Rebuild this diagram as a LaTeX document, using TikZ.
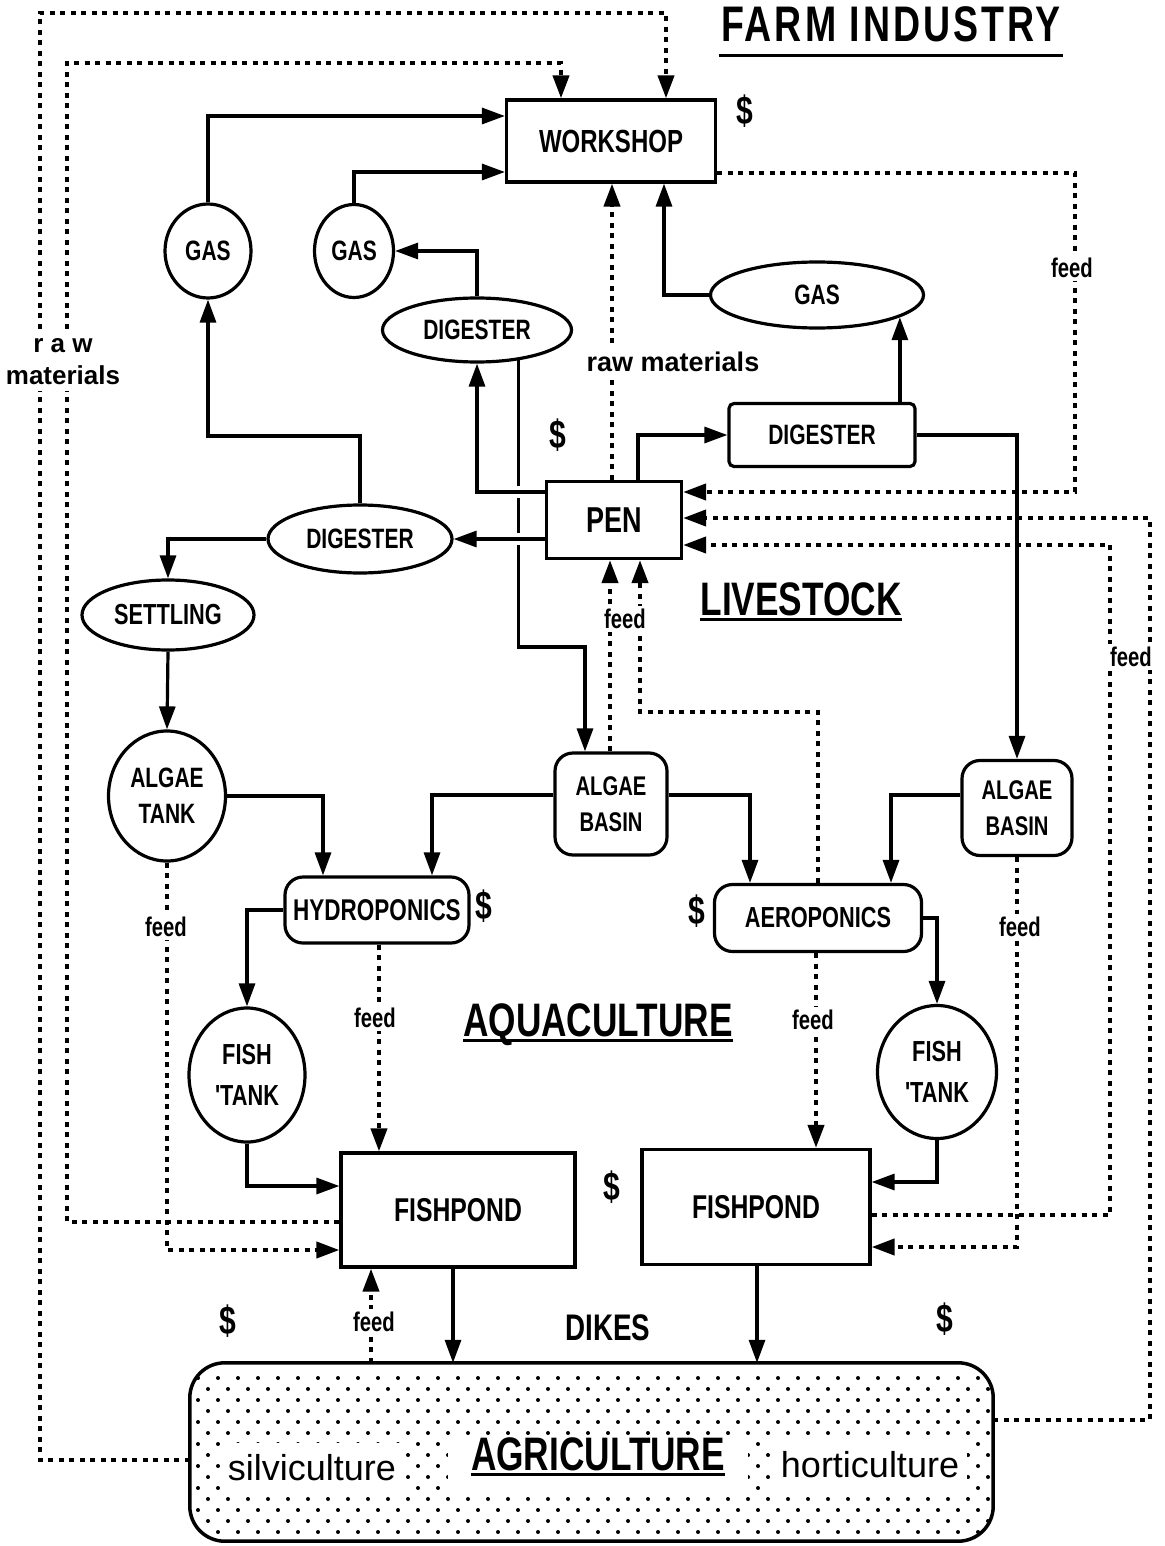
\documentclass[tikz,border=0pt]{standalone}
\usepackage{fontspec}
\setmainfont{Liberation Sans}
\newfontfamily\cf[FakeStretch=0.75]{Liberation Sans}
\newfontfamily\tf[FakeStretch=0.75,LetterSpace=6]{Liberation Sans}
\usetikzlibrary{arrows.meta,shapes.geometric}
\newcommand\fsz[2]{\fontsize{#1}{#2}\selectfont}
\begin{document}
\begin{tikzpicture}[x=1pt,y=-1pt,
  arr/.style={line width=3.2pt,-{Triangle[length=23pt,width=16pt]}},
  dl/.style={line width=4pt,dash pattern=on 5pt off 5.5pt},
  darr/.style={dl,-{Triangle[length=23pt,width=16pt]}},
  bx/.style={draw,line width=3.2pt,fill=white,rectangle,inner sep=0pt,align=center,font=\cf\bfseries\fsz{30}{30}},
  rbx/.style={bx,rounded corners=18pt},
  el/.style={draw,line width=3.2pt,fill=white,ellipse,inner sep=0pt,align=center,font=\cf\bfseries\fsz{28}{28}},
  fd/.style={fill=white,inner sep=3pt,font=\cf\bfseries\fsz{27}{27}},
  dol/.style={font=\cf\bfseries\fsz{40}{40},inner sep=0pt},
  ttl/.style={font=\cf\bfseries\fsz{47}{47},inner sep=0pt,anchor=base},
  ul/.style={line width=3pt},
  gap/.style={preaction={draw=white,line width=12pt,-}},
]
\useasboundingbox[fill=white] (0,0) rectangle (1164,1546);

% ---------- nodes ----------
\node[bx,minimum width=209pt,minimum height=82pt,font=\cf\bfseries\fsz{32}{32}] (ws) at (611,141) {WORKSHOP};
\node[el,minimum width=86pt,minimum height=94pt] (gas1) at (208,251) {GAS};
\node[el,minimum width=79pt,minimum height=93pt] (gas2) at (354,251) {GAS};
\node[el,minimum width=189pt,minimum height=64pt] (dig1) at (477,330) {DIGESTER};
\node[el,minimum width=213pt,minimum height=66pt] (gasr) at (817,295) {GAS};
\node[bx,rounded corners=5pt,minimum width=186pt,minimum height=63pt,font=\cf\bfseries\fsz{28}{28}] (digr) at (822,435) {DIGESTER};
\node[bx,minimum width=135pt,minimum height=77pt,font=\cf\bfseries\fsz{36}{36}] (pen) at (614,520) {PEN};
\node[el,minimum width=184pt,minimum height=68pt] (dig3) at (360,539) {DIGESTER};
\node[el,minimum width=172pt,minimum height=70pt,font=\cf\bfseries\fsz{29}{29}] (set) at (168,615) {SETTLING};
\node[el,minimum width=117pt,minimum height=130pt,font=\cf\bfseries\fsz{28}{36}] (algt) at (167,796) {ALGAE\\TANK};
\node[rbx,minimum width=112pt,minimum height=102pt,font=\cf\bfseries\fsz{27}{36}] (albm) at (611,804) {ALGAE\\BASIN};
\node[rbx,minimum width=110pt,minimum height=95pt,font=\cf\bfseries\fsz{27}{36}] (algr) at (1017,808) {ALGAE\\BASIN};
\node[rbx,minimum width=184pt,minimum height=66pt] (hyd) at (377,910) {HYDROPONICS};
\node[rbx,minimum width=207pt,minimum height=67pt,font=\cf\bfseries\fsz{29}{29}] (aer) at (818,918) {AEROPONICS};
\node[el,minimum width=116pt,minimum height=134pt,font=\cf\bfseries\fsz{29}{41}] (ft1) at (247,1075) {FISH\\'TANK};
\node[el,minimum width=119pt,minimum height=133pt,font=\cf\bfseries\fsz{29}{41}] (ft2) at (937,1072) {FISH\\'TANK};
\node[bx,minimum width=234pt,minimum height=114pt,font=\cf\bfseries\fsz{33}{33}] (fp1) at (458,1210) {FISHPOND};
\node[bx,minimum width=228pt,minimum height=115pt,font=\cf\bfseries\fsz{33}{33}] (fp2) at (756,1207) {FISHPOND};
\node[minimum width=803pt,minimum height=178pt,inner sep=0pt] (agri) at (591.5,1452) {};

% dotted texture of agriculture (staggered dot grid)
\begin{scope}
\clip[rounded corners=35pt] (agri.south west) rectangle (agri.north east);
\foreach \r in {0,...,16}{
  \pgfmathsetmacro\off{mod(\r,2)*10}
  \foreach \c in {0,...,40}{
    \fill (198+\off+\c*20,1378+\r*11) circle[radius=2pt];}}
\end{scope}
\draw[line width=3.5pt,rounded corners=35pt] (agri.south west) rectangle (agri.north east);

% ---------- solid connectors ----------
\draw[arr] (gas1.north) |- (ws.west |- 0,116);
\draw[arr] (gas2.north) |- (ws.west |- 0,172);
\draw[arr] (dig1.north) |- (gas2.east);
\draw[arr] (638,0 |- pen.north) |- (digr.west);
\draw[arr] (gasr.-15 |- digr.north) -- (gasr.-15);
\draw[arr] (gasr.west) -| (664,0 |- ws.south);
\draw[arr] (digr.east) -| (algr.north);
\draw[arr] (dig1.-36) |- (585,647) -- (585,0 |- albm.north);
\draw[arr,gap] (pen.west |- 0,492) -| (dig1.south);
\draw[arr,gap] (pen.west |- dig3.east) -- (dig3.east);
\draw[arr] (dig3.north) -- (dig3.north |- 0,436) -| (gas1.south);
\draw[arr] (dig3.west) -| (set.north);
\draw[arr] (set.south) -- (algt.north);
\draw[arr] (algt.east) -| (323,0 |- hyd.north);
\draw[arr] (albm.west |- 0,795) -| (432,0 |- hyd.north);
\draw[arr] (albm.east |- 0,795) -| (750,0 |- aer.north);
\draw[arr] (algr.west |- 0,795) -| (891,0 |- aer.north);
\draw[arr] (hyd.west) -| (ft1.north);
\draw[arr] (ft1.south) |- (fp1.west |- 0,1186);
\draw[arr] (aer.east) -| (ft2.north);
\draw[arr] (ft2.south) |- (fp2.east |- 0,1182);
\draw[arr] (453,0 |- fp1.south) -- (453,0 |- agri.north);
\draw[arr] (757,0 |- fp2.south) -- (757,0 |- agri.north);

% ---------- dotted connectors ----------
\draw[darr] (pen.north -| 612,0) -- (612,0 |- ws.south);
\draw[darr] (fp1.west |- 0,1222) -| (67,63) -| (561,0 |- ws.north);
\draw[darr] (agri.west |- 0,1460) -| (40,13) -| (666,0 |- ws.north);
\draw[darr] (ws.east |- 0,173) -| (1075,492) -- (pen.east |- 0,492);
\draw[darr] (agri.east |- 0,1420) -| (1150,518) -- (pen.east |- 0,518);
\draw[darr] (fp2.east |- 0,1215) -| (1110,545) -- (pen.east |- 0,545);
\draw[darr] (610,0 |- albm.north) -- (610,0 |- pen.south);
\draw[darr] (aer.north) -- (aer.north |- 0,712) -| (640,0 |- pen.south);
\draw[darr] (algt.south) |- (fp1.west |- 0,1250);
\draw[darr] (379,0 |- hyd.south) -- (379,0 |- fp1.north);
\draw[darr] (816,0 |- aer.south) -- (816,0 |- fp2.north);
\draw[darr] (algr.south) |- (fp2.east |- 0,1247);
\draw[darr] (371,0 |- agri.north) -- (371,0 |- fp1.south);

% ---------- labels ----------
\node[fill=white,inner xsep=2pt,inner ysep=6pt,align=center,font=\bfseries\fsz{26}{32}] (rm1) at (63,362) {r a w\\materials};
\node[fill=white,inner sep=3pt,font=\bfseries\fsz{27}{27}] (rm2) at (673,362) {raw materials};
\node[fd] (f1) at (1072,268) {feed};
\node[fd] (f2) at (625,619) {feed};
\node[fd,minimum width=58pt] (f3) at (1131,657) {feed};
\node[fd] (f4) at (166,927) {feed};
\node[fd] (f5) at (375,1018) {feed};
\node[fd] (f6) at (813,1020) {feed};
\node[fd] (f7) at (1020,927) {feed};
\node[fd] (f8) at (374,1322) {feed};

\node[dol] (d1) at (745,111) {\$};
\node[dol] (d2) at (558,435) {\$};
\node[dol] (d3) at (484,906) {\$};
\node[dol] (d4) at (697,911) {\$};
\node[dol] (d5) at (612,1187) {\$};
\node[dol] (d6) at (228,1321) {\$};
\node[dol] (d7) at (945,1319) {\$};

\node[ttl,font=\tf\bfseries\fsz{50}{50}] (farm) at (891,42) {FARM INDUSTRY};
\draw[ul] ([xshift=-2pt,yshift=-14pt]farm.base west) -- ([xshift=2pt,yshift=-14pt]farm.base east);
\node[ttl] (live) at (801,615) {LIVESTOCK};
\draw[ul] ([yshift=-4pt]live.base west) -- ([yshift=-4pt]live.base east);
\node[ttl] (aqua) at (598,1036) {AQUACULTURE};
\draw[ul] ([yshift=-4pt]aqua.base west) -- ([yshift=-4pt]aqua.base east);
\node[font=\cf\bfseries\fsz{37}{37},inner sep=0pt,anchor=base] (dikes) at (608,1340) {DIKES};

\node[fill=white,minimum height=50pt,inner xsep=8pt,font=\fsz{36}{36}] (silv) at (312,1468) {silviculture};
\node[fill=white,minimum height=56pt,inner xsep=10pt,minimum width=300pt] (agbg) at (598,1464) {};
\node[ttl] (agtx) at (598,1470) {AGRICULTURE};
\draw[ul] ([yshift=-4pt]agtx.base west) -- ([yshift=-4pt]agtx.base east);
\node[fill=white,minimum height=50pt,inner xsep=8pt,font=\fsz{36}{36}] (hort) at (870,1465) {horticulture};
\end{tikzpicture}
\end{document}
